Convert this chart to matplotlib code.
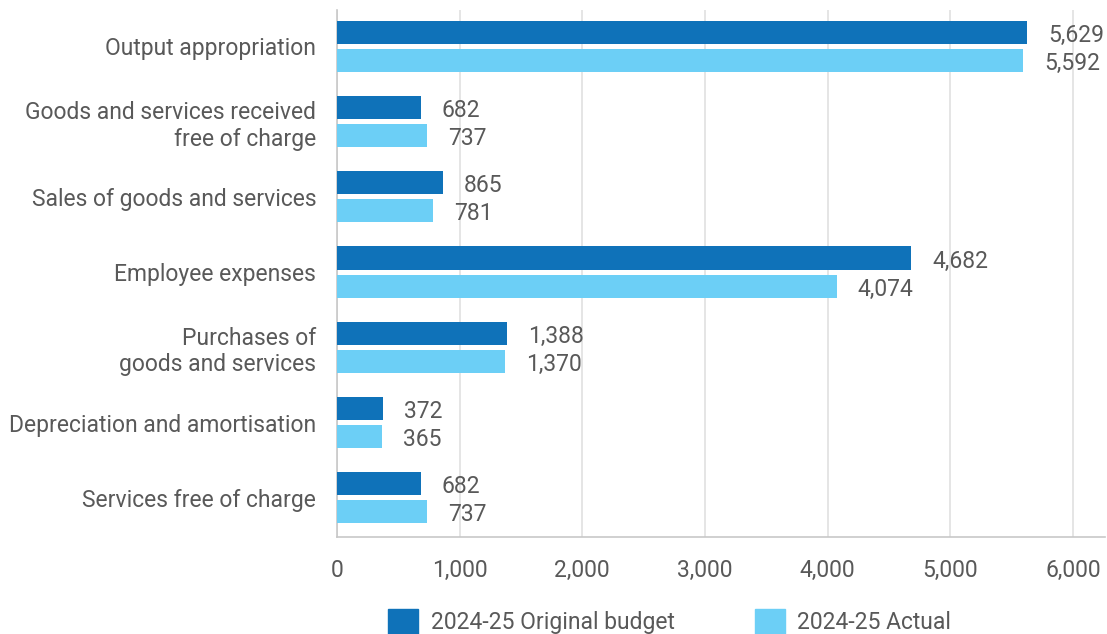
import numpy as np
import matplotlib.pyplot as plt
from matplotlib.patches import Patch

plt.rcParams['font.family'] = ['Roboto', 'DejaVu Sans']

categories = ['Output appropriation',
              'Goods and services received\nfree of charge',
              'Sales of goods and services',
              'Employee expenses',
              'Purchases of\ngoods and services',
              'Depreciation and amortisation',
              'Services free of charge']
budget = [5629, 682, 865, 4682, 1388, 372, 682]
actual = [5592, 737, 781, 4074, 1370, 365, 737]
series_names = ['2024-25 Original budget', '2024-25 Actual']

dark = '#0f72b9'
light = '#6ccff6'
txt = '#595959'
fs = 16.5

fig = plt.figure(figsize=(11.07, 6.34), dpi=100)
ax = fig.add_axes([0.3044, 0.153, 0.6936, 0.831])

y = np.arange(len(categories))
h = 0.307
off = 0.187
b1 = ax.barh(y - off, budget, height=h, color=dark, zorder=3)
b2 = ax.barh(y + off, actual, height=h, color=light, zorder=3)

for bars, vals in [(b1, budget), (b2, actual)]:
    for bar, v in zip(bars, vals):
        ax.annotate(f'{v:,}', (v, bar.get_y() + bar.get_height() / 2),
                    xytext=(21, -3), textcoords='offset pixels',
                    ha='left', va='center', fontsize=fs, color=txt)

ax.set_xlim(0, 6260)
ax.set_ylim(6.52, -0.48)
ax.set_xticks(np.arange(0, 7000, 1000))
ax.set_xticklabels([f'{v:,}' for v in range(0, 7000, 1000)])
ax.set_yticks(y)
ax.set_yticklabels(categories, ha='right', multialignment='right')
ax.tick_params(axis='both', length=0, labelsize=fs, colors=txt)
ax.tick_params(axis='y', pad=15)
ax.tick_params(axis='x', pad=16)
ax.grid(axis='x', color='#e0e0e0', linewidth=1.2, zorder=0)
for s in ['top', 'right']:
    ax.spines[s].set_visible(False)
for s in ['left', 'bottom']:
    ax.spines[s].set_color('#c8c8c8')
    ax.spines[s].set_linewidth(1.2)

handles = [Patch(color=dark), Patch(color=light)]
fig.legend(handles, series_names, loc='lower center', bbox_to_anchor=(0.605, -0.033),
           ncol=2, frameon=False, fontsize=fs, labelcolor=txt,
           handlelength=1.3, handleheight=1.3, columnspacing=3.5, handletextpad=0.55)

fig.savefig('out.png', dpi=100)
